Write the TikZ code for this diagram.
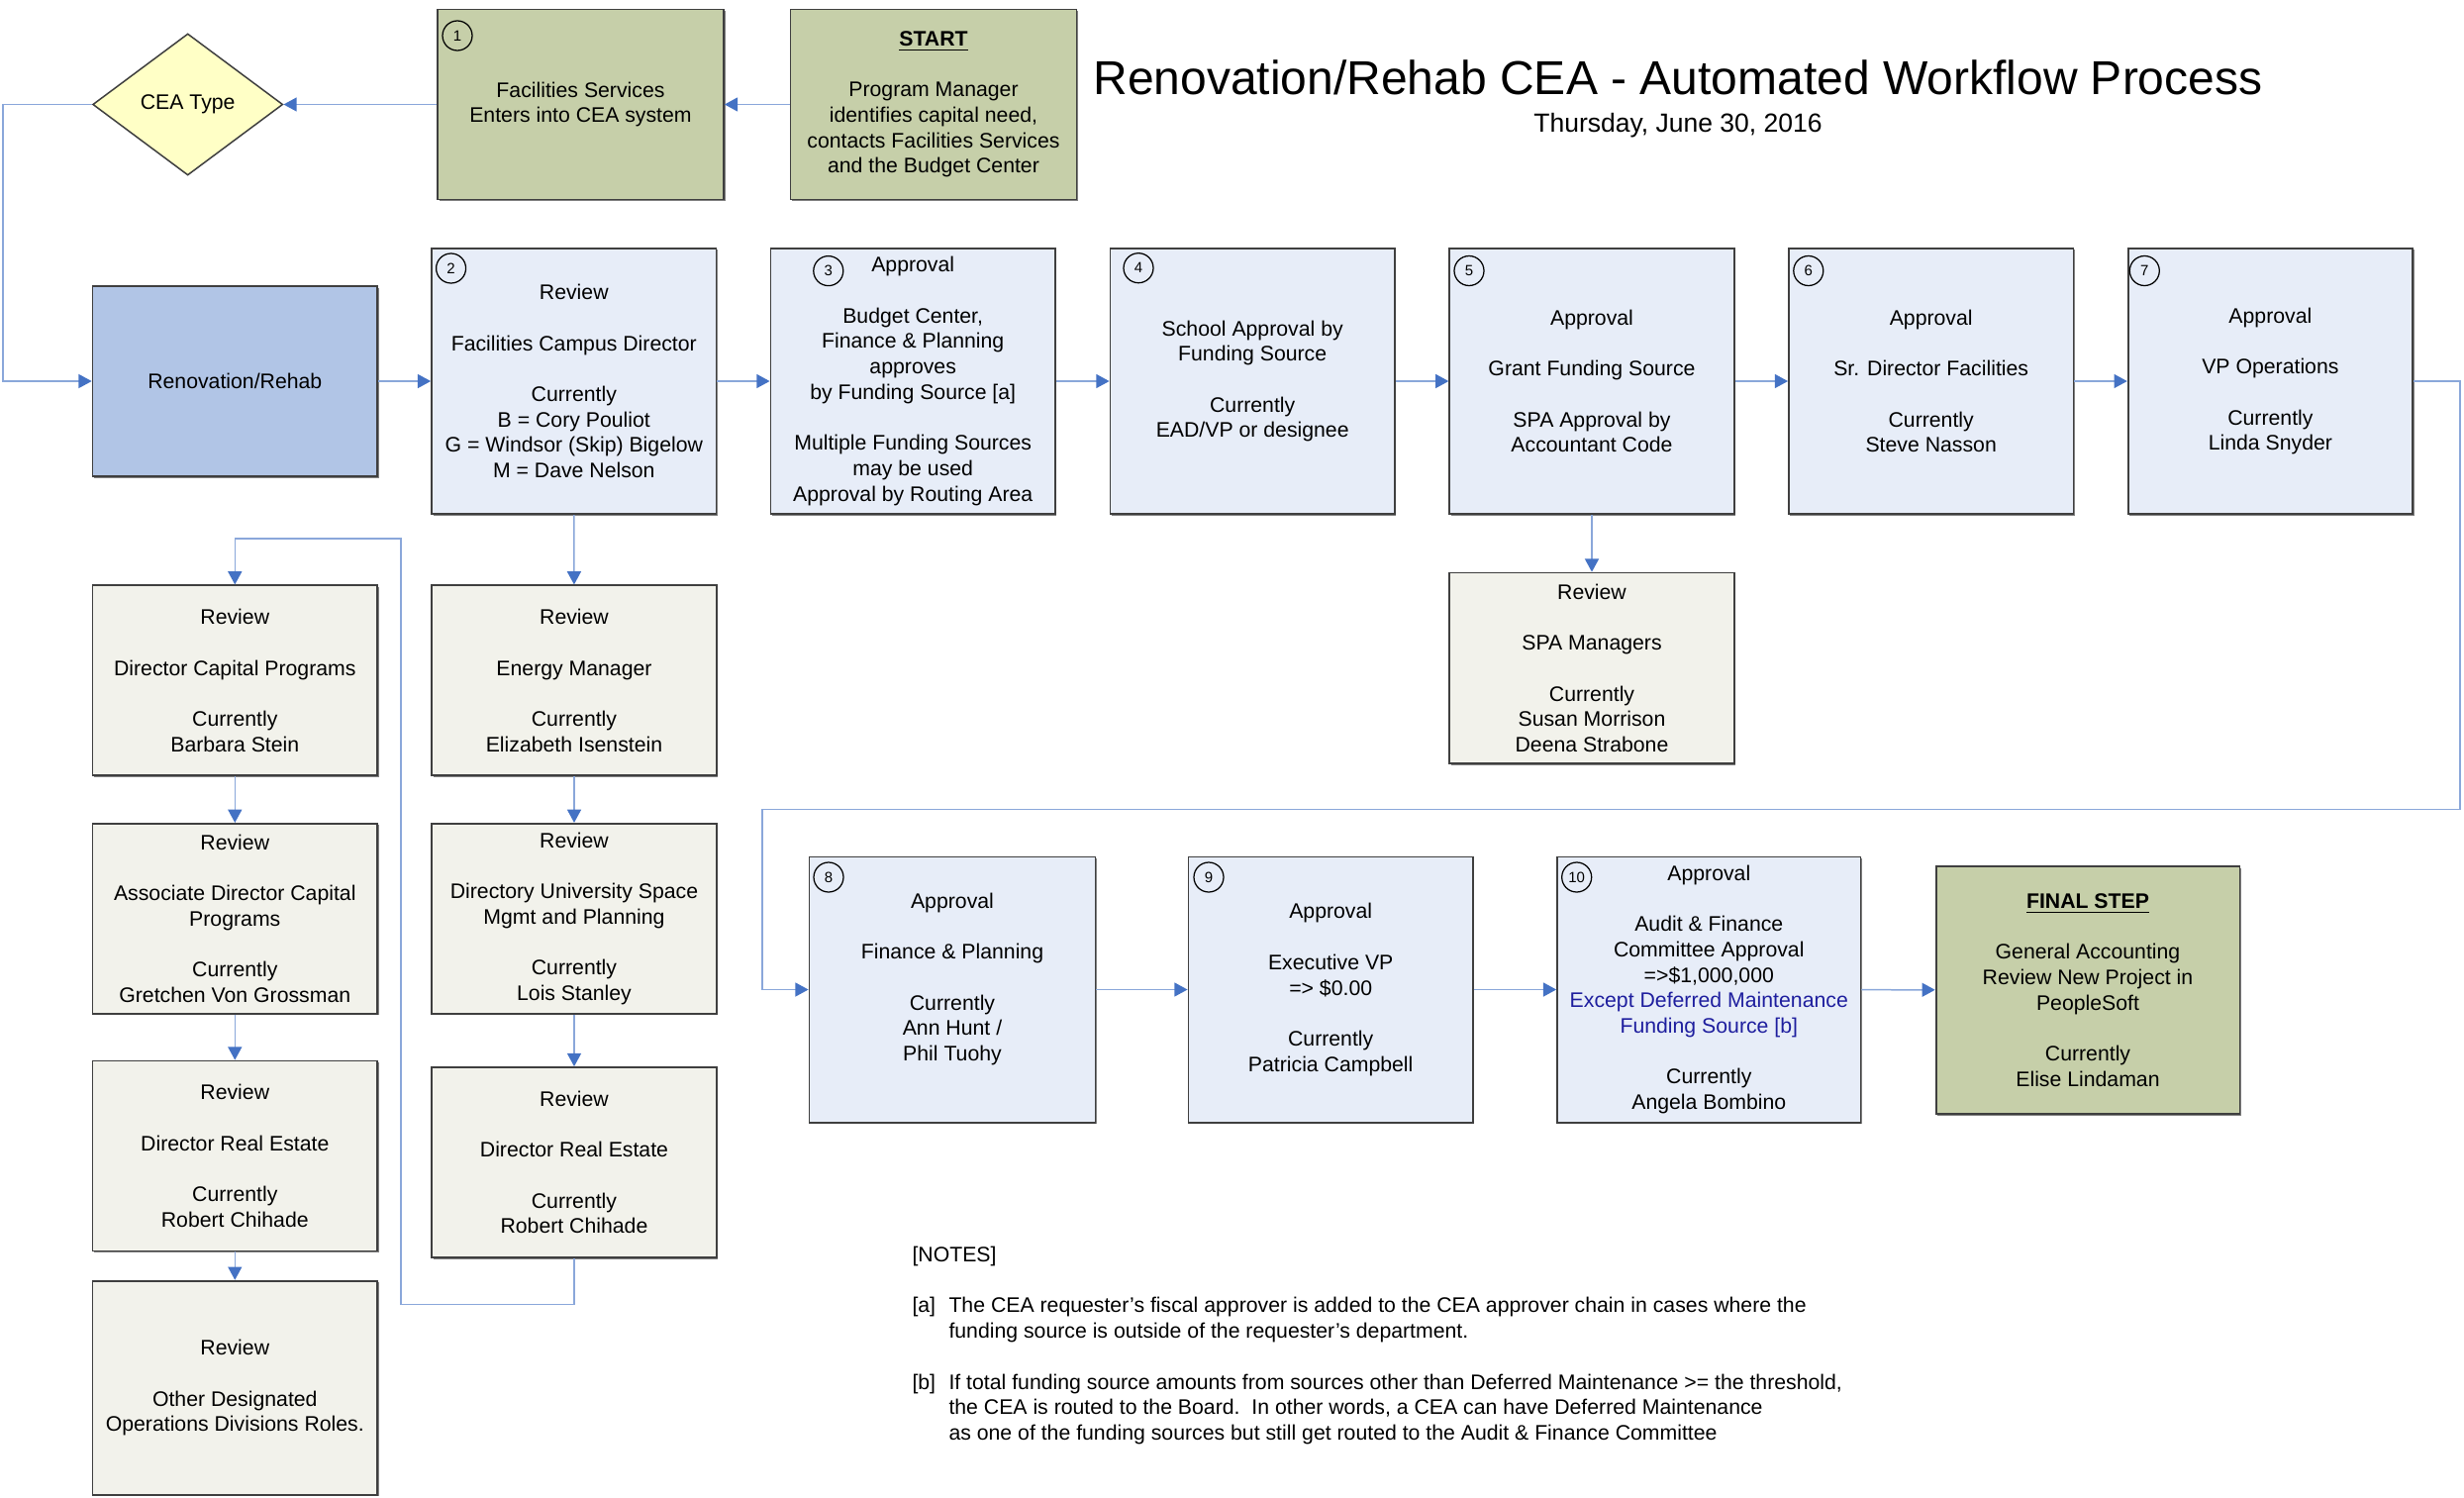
\documentclass[tikz,border=0pt]{standalone}
\usepackage{fontspec}
\setmainfont{Liberation Sans}
\usetikzlibrary{shapes.geometric,arrows.meta,shadows}
\definecolor{boxblue}{HTML}{E7EDF8}
\definecolor{renoblue}{HTML}{B1C5E6}
\definecolor{revgray}{HTML}{F2F2EB}
\definecolor{boxgreen}{HTML}{C6CFA9}
\definecolor{diayellow}{HTML}{FFFFC6}
\definecolor{edgegray}{HTML}{3F3F3F}
\definecolor{lineblue}{HTML}{8AA7DA}
\definecolor{tipblue}{HTML}{4472C4}
\definecolor{navytext}{HTML}{1E1E9E}
\newcommand{\boxfont}{\fontsize{8.5}{10.28}\selectfont}
\begin{document}
\begin{tikzpicture}[x=0.4pt,y=-0.4pt,
  box/.style={draw=edgegray, line width=0.7pt, align=center, inner sep=0pt, font=\boxfont,
    general shadow={fill=black!50, shadow xshift=0.6pt, shadow yshift=-0.6pt}},
  stepbox/.style={box, fill=boxblue, minimum width=115pt, minimum height=107.3pt},
  revbox/.style={box, fill=revgray, minimum width=115pt, minimum height=76.8pt},
  greenbox/.style={box, fill=boxgreen, minimum width=115.6pt, minimum height=76.8pt},
  numc/.style={circle, draw=black, line width=0.5pt, minimum size=12pt, inner sep=0pt, font=\fontsize{6}{7}\selectfont},
  conn/.style={draw=lineblue, line width=0.6pt, -{Triangle[length=5.3pt,width=5.6pt,color=tipblue]}},
  plain/.style={draw=lineblue, line width=0.6pt}
]
\useasboundingbox (0,0) rectangle (2489,1513);

% title
\node[anchor=base, font=\fontsize{19.2}{23}\selectfont, inner sep=0pt] (title) at (1695,95) {Renovation/Rehab CEA - Automated Workflow Process};
\node[anchor=base, font=\fontsize{10.6}{12.5}\selectfont, inner sep=0pt] (date) at (1695,133.5) {Thursday, June 30, 2016};

% top row
\node[diamond, draw=edgegray, line width=0.6pt, fill=diayellow, minimum width=76.8pt, minimum height=57.2pt, inner sep=0pt, font=\boxfont] (cea) at (189.7,105.5) {CEA Type};
\node[greenbox] (b1) at (586.5,105.5) {Facilities Services\\ Enters into CEA system};
\node[greenbox] (start) at (943,105.5) {\textbf{\underline{START}}\\ ~\\ Program Manager\\ identifies capital need,\\ contacts Facilities Services\\ and the Budget Center};

% second row
\node[box, fill=renoblue, minimum width=115pt, minimum height=76.8pt] (reno) at (237.3,385) {Renovation/Rehab};
\node[stepbox] (b2) at (579.8,385) {Review\\ ~\\ Facilities Campus Director\\ ~\\ Currently\\ B = Cory Pouliot\\ G = Windsor (Skip) Bigelow\\ M = Dave Nelson};
\node[stepbox] (b3) at (922.2,385) {Approval\\ ~\\ Budget Center,\\ Finance \& Planning\\ approves\\ by Funding Source [a]\\ ~\\ Multiple Funding Sources\\ may be used\\ Approval by Routing Area};
\node[stepbox] (b4) at (1265.2,385) {School Approval by\\ Funding Source\\ ~\\ Currently\\ EAD/VP or designee};
\node[stepbox] (b5) at (1608,385) {Approval\\ ~\\ Grant Funding Source\\ ~\\ SPA Approval by\\ Accountant Code};
\node[stepbox] (b6) at (1950.7,385) {Approval\\ ~\\ Sr. Director Facilities\\ ~\\ Currently\\ Steve Nasson};
\node[stepbox] (b7) at (2293.4,385) {Approval\\ ~\\ VP Operations\\ ~\\ Currently\\ Linda Snyder};

\node[revbox, minimum height=77pt] (spa) at (1608,674.8) {Review\\ ~\\ SPA Managers\\ ~\\ Currently\\ Susan Morrison\\ Deena Strabone};

% left columns
\node[revbox] (dcp) at (237.3,687.3) {Review\\ ~\\ Director Capital Programs\\ ~\\ Currently\\ Barbara Stein};
\node[revbox] (assoc) at (237.3,927.8) {Review\\ ~\\ Associate Director Capital\\ Programs\\ ~\\ Currently\\ Gretchen Von Grossman};
\node[revbox] (dre1) at (237.3,1167.5) {Review\\ ~\\ Director Real Estate\\ ~\\ Currently\\ Robert Chihade};
\node[revbox, minimum height=86.5pt] (other) at (237.3,1401.8) {Review\\ ~\\ Other Designated\\ Operations Divisions Roles.};

\node[revbox] (energy) at (580,687.3) {Review\\ ~\\ Energy Manager\\ ~\\ Currently\\ Elizabeth Isenstein};
\node[revbox] (dirsp) at (580,927.8) {Review\\ ~\\ Directory University Space\\ Mgmt and Planning\\ ~\\ Currently\\ Lois Stanley};
\node[revbox] (dre2) at (580,1174) {Review\\ ~\\ Director Real Estate\\ ~\\ Currently\\ Robert Chihade};

% lower row
\node[stepbox, minimum width=115.6pt] (b8) at (962,999.5) {Approval\\ ~\\ Finance \& Planning\\ ~\\ Currently\\ Ann Hunt /\\ Phil Tuohy\\ ~};
\node[stepbox] (b9) at (1344.2,999.5) {Approval\\ ~\\ Executive VP\\ => \$0.00\\ ~\\ Currently\\ Patricia Campbell};
\node[stepbox, minimum width=122.6pt] (b10) at (1726.3,999.5) {Approval\\ ~\\ Audit \& Finance\\ Committee Approval\\ =>\$1,000,000\\ \textcolor{navytext}{Except Deferred Maintenance}\\ \textcolor{navytext}{Funding Source [b]}\\ ~\\ Currently\\ Angela Bombino};
\node[greenbox, minimum width=122.7pt, minimum height=100pt] (final) at (2109,1000) {\textbf{\underline{FINAL STEP}}\\ ~\\ General Accounting\\ Review New Project in\\ PeopleSoft\\ ~\\ Currently\\ Elise Lindaman};

% number circles
\node[numc] (c1) at (462,36) {1};
\node[numc] (c2) at (455.6,271) {2};
\node[numc] (c3) at (836.8,273.6) {3};
\node[numc] (c4) at (1150,270.7) {4};
\node[numc] (c5) at (1484,273.5) {5};
\node[numc] (c6) at (1826.8,273.5) {6};
\node[numc] (c7) at (2166.3,273.5) {7};
\node[numc] (c8) at (837,886) {8};
\node[numc] (c9) at (1221,886) {9};
\node[numc] (c10) at (1592.7,886) {10};

% notes
\node[anchor=north west, inner sep=0pt, font=\boxfont] (notes) at (921,1256) {\begin{tabular}{@{}p{14.8pt}@{}l@{}}
\multicolumn{2}{@{}l@{}}{[NOTES]}\\
\\
{[a]} & The CEA requester’s fiscal approver is added to the CEA approver chain in cases where the\\
 & funding source is outside of the requester’s department.\\
\\
{[b]} & If total funding source amounts from sources other than Deferred Maintenance >= the threshold,\\
 & the CEA is routed to the Board.\ \ In other words, a CEA can have Deferred Maintenance\\
 & as one of the funding sources but still get routed to the Audit \& Finance Committee
\end{tabular}};

% bend coordinates
\coordinate (k1) at (3,105.5);
\coordinate (r1) at (2485,817.5);
\coordinate (r2) at (770,817.5);
\coordinate (l1) at (405,1317.5);
\coordinate (l2) at (405,544);

% connectors
\draw[conn] (start) -- (b1);
\draw[conn] (b1) -- (cea);
\draw[conn] (cea.west) -- (k1) |- (reno.west);
\draw[conn] (reno) -- (b2);
\draw[conn] (b2) -- (b3);
\draw[conn] (b3) -- (b4);
\draw[conn] (b4) -- (b5);
\draw[conn] (b5) -- (b6);
\draw[conn] (b6) -- (b7);
\draw[conn] (b7.east) -| (r1) -- (r2) |- (b8.west);
\draw[conn] (b8) -- (b9);
\draw[conn] (b9) -- (b10);
\draw[conn] (b10) -- (final);
\draw[conn] (b5) -- (spa);
\draw[conn] (b2) -- (energy);
\draw[conn] (energy) -- (dirsp);
\draw[conn] (dirsp) -- (dre2);
\draw[conn] (dre2.south) |- (l1) -- (l2) -| (dcp.north);
\draw[conn] (dcp) -- (assoc);
\draw[conn] (assoc) -- (dre1);
\draw[conn] (dre1) -- (other);
\end{tikzpicture}
\end{document}
